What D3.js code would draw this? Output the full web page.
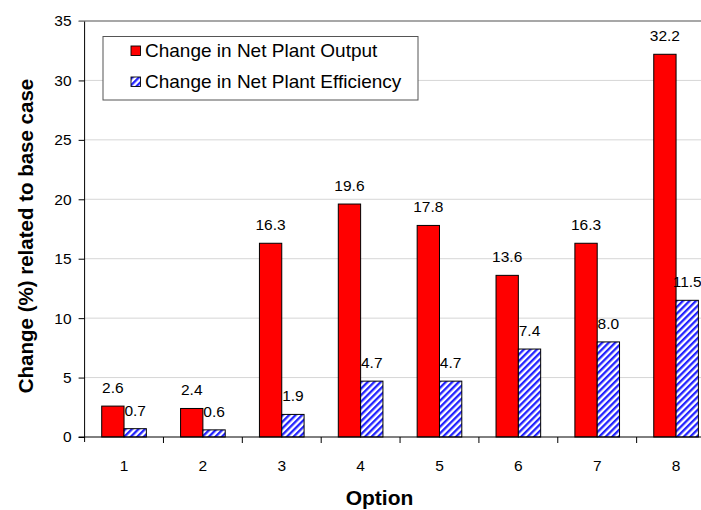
<!DOCTYPE html>
<html><head><meta charset="utf-8">
<script src="https://cdn.jsdelivr.net/npm/d3@7"></script>
<style>body{margin:0;background:#fff}svg{display:block}text{font-family:Arial,"Liberation Sans",sans-serif}</style>
</head><body><svg id="c" width="701" height="510"></svg>
<script>
const options = ["1","2","3","4","5","6","7","8"];
const netOutput = [2.6, 2.4, 16.3, 19.6, 17.8, 13.6, 16.3, 32.2];
const netEfficiency = [0.7, 0.6, 1.9, 4.7, 4.7, 7.4, 8.0, 11.5];
const yTicks = [0,5,10,15,20,25,30,35];
const seriesNames = ["Change in Net Plant Output","Change in Net Plant Efficiency"];

(function(){
const svg = d3.select("#c");
const pL = 84.6, pR = 715.5, pT = 21, pB = 437;
const x = d3.scaleBand().domain(options).range([pL, pR]).padding(0);
const y = d3.scaleLinear().domain([0,35]).range([pB, pT]);
const barW = x.bandwidth()*0.283;
const FS = 15.5;

const defs = svg.append("defs");
const pat = defs.append("pattern").attr("id","hatch").attr("patternUnits","userSpaceOnUse")
  .attr("width",4.6).attr("height",4.6).attr("patternTransform","rotate(45)");
pat.append("rect").attr("width",4.6).attr("height",4.6).attr("fill","#fff");
pat.append("rect").attr("width",2.3).attr("height",4.6).attr("fill","#2222ff");

svg.append("g").selectAll("line").data(yTicks.filter(d=>d>0)).join("line")
  .attr("x1",d=>d===35?pL-6:pL).attr("x2",701).attr("y1",d=>y(d)).attr("y2",d=>y(d))
  .attr("stroke",d=>d===35?"#8a8a8a":"#d6d6d6").attr("stroke-width",d=>d===35?1.6:1);

const g = svg.append("g");
options.forEach((o,i)=>{
  const cx = x(o)+x.bandwidth()/2;
  g.append("rect").attr("x",cx-barW).attr("y",y(netOutput[i])).attr("width",barW)
    .attr("height",y(0)-y(netOutput[i])).attr("fill","#ff0000").attr("stroke","#000").attr("stroke-width",1);
  g.append("rect").attr("x",cx).attr("y",y(netEfficiency[i])).attr("width",barW)
    .attr("height",y(0)-y(netEfficiency[i])).attr("fill","url(#hatch)").attr("stroke","#000").attr("stroke-width",1);
  g.append("text").attr("x",cx-barW/2).attr("y",y(netOutput[i])-13).attr("text-anchor","middle")
    .attr("font-size",FS).text(netOutput[i].toFixed(1));
  g.append("text").attr("x",cx+barW/2).attr("y",y(netEfficiency[i])-13).attr("text-anchor","middle")
    .attr("font-size",FS).text(netEfficiency[i].toFixed(1));
});

const ya = svg.append("g").attr("transform",`translate(${pL},0)`)
  .call(d3.axisLeft(y).tickValues(yTicks).tickSize(6).tickPadding(7));
ya.select(".domain").attr("stroke","#000").attr("d",`M0,${pT}V${pB+5}`);
ya.selectAll(".tick line").attr("stroke",d=>d===35?"#8a8a8a":"#000");
ya.selectAll("text").attr("font-size",FS).attr("font-family","Arial, Liberation Sans, sans-serif").attr("fill","#000");

const xa = svg.append("g").attr("transform",`translate(0,${pB})`)
  .call(d3.axisBottom(x).tickSize(0).tickPadding(23));
xa.select(".domain").attr("stroke","#000").attr("d",`M${pL-6},0H701`);
xa.selectAll("text").attr("font-size",FS).attr("font-family","Arial, Liberation Sans, sans-serif").attr("fill","#000");
svg.append("g").selectAll("line").data(options.slice(1)).join("line")
  .attr("x1",d=>x(d)).attr("x2",d=>x(d)).attr("y1",pB).attr("y2",pB+6).attr("stroke","#000");

svg.append("text").attr("transform","translate(32.5,236) rotate(-90)").attr("text-anchor","middle")
  .attr("font-size",20.5).attr("font-weight","bold").text("Change (%) related to base case");
svg.append("text").attr("x",379.5).attr("y",505).attr("text-anchor","middle")
  .attr("font-size",21).attr("font-weight","bold").text("Option");

const lg = svg.append("g");
lg.append("rect").attr("x",103).attr("y",36.5).attr("width",315).attr("height",63.5)
  .attr("fill","#fff").attr("stroke","#555").attr("stroke-width",1);
const fills = ["#ff0000","url(#hatch)"];
seriesNames.forEach((s,i)=>{
  const base = 57 + i*31;
  lg.append("rect").attr("x",131).attr("y",base-11).attr("width",9.5).attr("height",9.5)
    .attr("fill",fills[i]).attr("stroke","#000").attr("stroke-width",0.9);
  lg.append("text").attr("x",145).attr("y",base).attr("font-size",19).text(s);
});
})();
</script></body></html>
